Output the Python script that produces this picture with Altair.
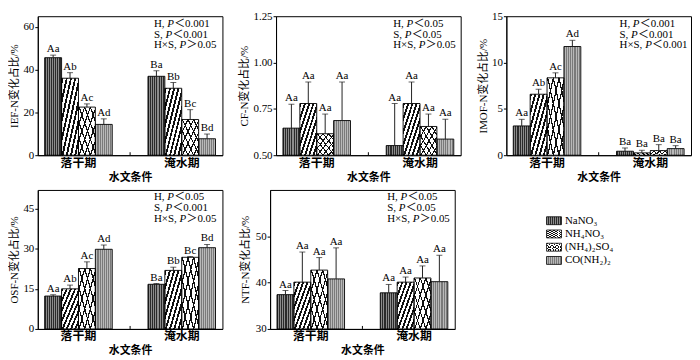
import altair as alt
import pandas as pd

# ---------------- data ----------------
periods = ["落干期", "淹水期"]
ferts = ["NaNO3", "NH4NO3", "(NH4)2SO4", "CO(NH2)2"]
fert_labels = ["NaNO₃", "NH₄NO₃", "(NH₄)₂SO₄", "CO(NH₂)₂"]

# order: 落干期 (4 fertilisers), then 淹水期 (4 fertilisers)
ief_mean = [45.6, 36.0, 22.5, 14.4, 36.9, 31.3, 16.7, 7.7]
ief_err = [1.2, 2.6, 1.5, 2.6, 2.6, 2.7, 4.6, 2.2]
ief_sig = ["Aa", "Ab", "Ac", "Ad", "Ba", "Bb", "Bc", "Bd"]

cf_mean = [0.646, 0.779, 0.616, 0.687, 0.552, 0.779, 0.655, 0.587]
cf_err = [0.129, 0.116, 0.106, 0.208, 0.227, 0.116, 0.067, 0.107]
cf_sig = ["Aa", "Aa", "Aa", "Aa", "Aa", "Aa", "Aa", "Aa"]

imof_mean = [3.16, 6.58, 8.35, 11.73, 0.43, 0.25, 0.50, 0.71]
imof_err = [0.71, 0.53, 0.54, 0.67, 0.35, 0.28, 0.64, 0.32]
imof_sig = ["Aa", "Ab", "Ac", "Ad", "Ba", "Ba", "Ba", "Ba"]

osf_mean = [12.3, 15.0, 22.6, 29.8, 16.7, 21.9, 26.8, 30.4]
osf_err = [0.5, 1.4, 2.5, 1.6, 0.3, 1.2, 0.3, 1.2]
osf_sig = ["Aa", "Ab", "Ac", "Ad", "Ba", "Bb", "Bc", "Bd"]

ntf_mean = [37.4, 40.1, 42.7, 40.8, 37.8, 40.1, 41.0, 40.2]
ntf_err = [0.9, 6.5, 2.7, 6.7, 1.8, 1.1, 2.6, 5.7]
ntf_sig = ["Aa", "Aa", "Aa", "Aa", "Aa", "Aa", "Aa", "Aa"]

ief_notes = [["H, ", "P", "＜0.001"], ["S, ", "P", "＜0.001"], ["H×S, ", "P", "＞0.05"]]
cf_notes = [["H, ", "P", "＜0.05"], ["S, ", "P", "＜0.05"], ["H×S, ", "P", "＞0.05"]]
imof_notes = [["H, ", "P", "＜0.001"], ["S, ", "P", "＜0.001"], ["H×S, ", "P", "＜0.001"]]
osf_notes = [["H, ", "P", "＜0.05"], ["S, ", "P", "＜0.001"], ["H×S, ", "P", "＞0.05"]]
ntf_notes = [["H, ", "P", "＜0.05"], ["S, ", "P", "＜0.05"], ["H×S, ", "P", "＞0.05"]]

# ---------------- style ----------------
SERIF = "Liberation Serif, Noto Sans CJK SC"
CJK = "Noto Sans CJK SC"
W, H = 186, 140
PREFIX_W = {"H, ": 13.4, "S, ": 11.6, "H×S, ": 25.8}
P_W = 7.0


def stripes(c1, c2, n, x1, y1, x2, y2, frac=0.5):
    stops = []
    for i in range(n):
        a = i / n
        b = (i + frac) / n
        c = (i + 1) / n
        stops += [
            {"offset": a, "color": c1},
            {"offset": b, "color": c1},
            {"offset": b, "color": c2},
            {"offset": c, "color": c2},
        ]
    return {"gradient": "linear", "x1": x1, "y1": y1, "x2": x2, "y2": y2, "stops": stops}


PATTERNS = {
    "NaNO3": [stripes("#2a2a2a", "#8c8c8c", 8, 0, 0, 1, 0)],
    "NH4NO3": [stripes("#111111", "#ffffff", 8, 0, 0, 1, 1, frac=0.45)],
    "(NH4)2SO4": [
        stripes("#111111", "#ffffff", 6, 0, 0, 1, 1, frac=0.22),
        stripes("#111111", "rgba(0,0,0,0)", 6, 0, 1, 1, 0, frac=0.22),
    ],
    "CO(NH2)2": [stripes("#7a7a7a", "#b9b9b9", 8, 0, 0, 1, 0)],
}


def panel_df(mean, err, sig):
    rows = []
    for i, p in enumerate(periods):
        for j, f in enumerate(ferts):
            k = i * 4 + j
            rows.append(dict(period=p, fert=f, mean=mean[k], upper=mean[k] + err[k], sig=sig[k]))
    return pd.DataFrame(rows)


def panel(mean, err, sig, ytitle, domain, ticks, fmt, notes, note_x=117, title_pad=3):
    df = panel_df(mean, err, sig)
    xenc = alt.X(
        "period:N",
        sort=periods,
        scale=alt.Scale(domain=periods, paddingInner=0.346, paddingOuter=0.067),
        axis=alt.Axis(title="水文条件", labelAngle=0),
    )
    xoff = alt.XOffset("fert:N", sort=ferts, scale=alt.Scale(domain=ferts, paddingInner=0, paddingOuter=0))
    ysc = alt.Scale(domain=domain, zero=False, nice=False, clamp=True)
    yax = alt.Axis(title=ytitle, values=ticks, format=fmt, titlePadding=title_pad)

    def Y(field):
        return alt.Y(field, scale=ysc, axis=yax)

    base = alt.Chart(df)
    layers = []
    for f in ferts:
        for fill in PATTERNS[f]:
            layers.append(
                base.transform_filter(alt.datum.fert == f)
                .mark_bar(fill=fill, strokeWidth=0)
                .encode(x=xenc, xOffset=xoff, y=Y("mean:Q"))
            )
    layers.append(
        base.mark_bar(fill="transparent", stroke="black", strokeWidth=0.9).encode(
            x=xenc, xOffset=xoff, y=Y("mean:Q")
        )
    )
    layers.append(
        base.mark_rule(color="#222222", strokeWidth=1).encode(
            x=xenc, xOffset=xoff, y=Y("mean:Q"), y2="upper:Q"
        )
    )
    layers.append(
        base.mark_tick(color="#222222", thickness=1, size=6).encode(x=xenc, xOffset=xoff, y=Y("upper:Q"))
    )
    layers.append(
        base.mark_text(font=SERIF, fontSize=11, baseline="alphabetic", dy=-3, color="black").encode(
            x=xenc, xOffset=xoff, y=Y("upper:Q"), text="sig:N"
        )
    )
    one = alt.Chart(pd.DataFrame({"k": [0]}))
    layers.append(
        one.mark_rule(color="black", strokeWidth=1).encode(
            x=alt.value(W / 2), y=alt.value(H), y2=alt.value(H - 3)
        )
    )
    for li, (pre, pv, rest) in enumerate(notes):
        yy = 7.5 + 11 * li
        x0 = note_x
        x1 = x0 + PREFIX_W[pre]
        x2 = x1 + P_W
        layers.append(one.mark_text(text=pre, font=SERIF, fontSize=11, align="left", baseline="middle", color="black")
                      .encode(x=alt.value(x0), y=alt.value(yy)))
        layers.append(one.mark_text(text=pv, font=SERIF, fontSize=11, fontStyle="italic", align="left",
                                    baseline="middle", color="black")
                      .encode(x=alt.value(x1), y=alt.value(yy)))
        layers.append(one.mark_text(text=rest, font=SERIF, fontSize=11, align="left", baseline="middle", color="black")
                      .encode(x=alt.value(x2), y=alt.value(yy)))
    return alt.layer(*layers).properties(width=W, height=H)


p1 = panel(ief_mean, ief_err, ief_sig, "IEF-N变化占比/%", [0, 65], [0, 20, 40, 60], "d", ief_notes)
p2 = panel(cf_mean, cf_err, cf_sig, "CF-N变化占比/%", [0.5, 1.25], [0.5, 0.75, 1.0, 1.25], ".2f", cf_notes, note_x=118)
p3 = panel(imof_mean, imof_err, imof_sig, "IMOF-N变化占比/%", [0, 15], [0, 5, 10, 15], "d", imof_notes, note_x=114)
p4 = panel(osf_mean, osf_err, osf_sig, "OSF-N变化占比/%", [0, 52], [0, 15, 30, 45], "d", osf_notes)
p5 = panel(ntf_mean, ntf_err, ntf_sig, "NTF-N变化占比/%", [30, 60], [30, 40, 50], "d", ntf_notes,
           note_x=118, title_pad=5)

# ---------------- legend ----------------
leg_df = pd.DataFrame({"fert": ferts, "label": fert_labels})
leg_y = alt.Y("fert:N", sort=ferts, scale=alt.Scale(domain=ferts, range=[31, 71], padding=0), axis=None)
SWATCH = "M-1,-0.53H1V0.53H-1Z"
leg_base = alt.Chart(leg_df)
leg_layers = []
for f in ferts:
    for fill in PATTERNS[f]:
        leg_layers.append(
            leg_base.transform_filter(alt.datum.fert == f)
            .mark_point(shape=SWATCH, size=225, filled=True, fill=fill, strokeWidth=0, opacity=1)
            .encode(x=alt.value(83), y=leg_y)
        )
leg_layers.append(
    leg_base.mark_point(shape=SWATCH, size=225, filled=False, stroke="black", strokeWidth=0.8, opacity=1)
    .encode(x=alt.value(83), y=leg_y)
)
leg_layers.append(
    leg_base.mark_text(font=SERIF, fontSize=11, align="left", baseline="middle", color="black")
    .encode(x=alt.value(94), y=leg_y, text="label:N")
)
legend = alt.layer(*leg_layers).properties(width=186, height=H, view=alt.ViewBackground(stroke="transparent"))

row1 = alt.hconcat(p1, p2, p3, spacing=15)
row2 = alt.hconcat(p4, p5, legend, spacing=15)

chart = (
    alt.vconcat(row1, row2, spacing=6)
    .properties(padding=0)
    .configure_view(stroke="black", strokeWidth=1)
    .configure_axis(
        domainColor="black",
        tickColor="black",
        labelColor="black",
        titleColor="black",
        grid=False,
        labelFont=SERIF,
        titleFont=SERIF,
        labelFontSize=11,
        titleFontSize=11,
        titleFontWeight="normal",
        tickSize=3,
        labelPadding=1,
    )
    .configure_axisX(
        labelFont=CJK,
        labelFontSize=12,
        labelFontWeight="bold",
        ticks=False,
        labelPadding=2,
        titleFont=CJK,
        titleFontSize=11,
        titleFontWeight="bold",
        titlePadding=3,
    )
)

chart.save("out.html", embed_options={"renderer": "svg", "actions": False})
